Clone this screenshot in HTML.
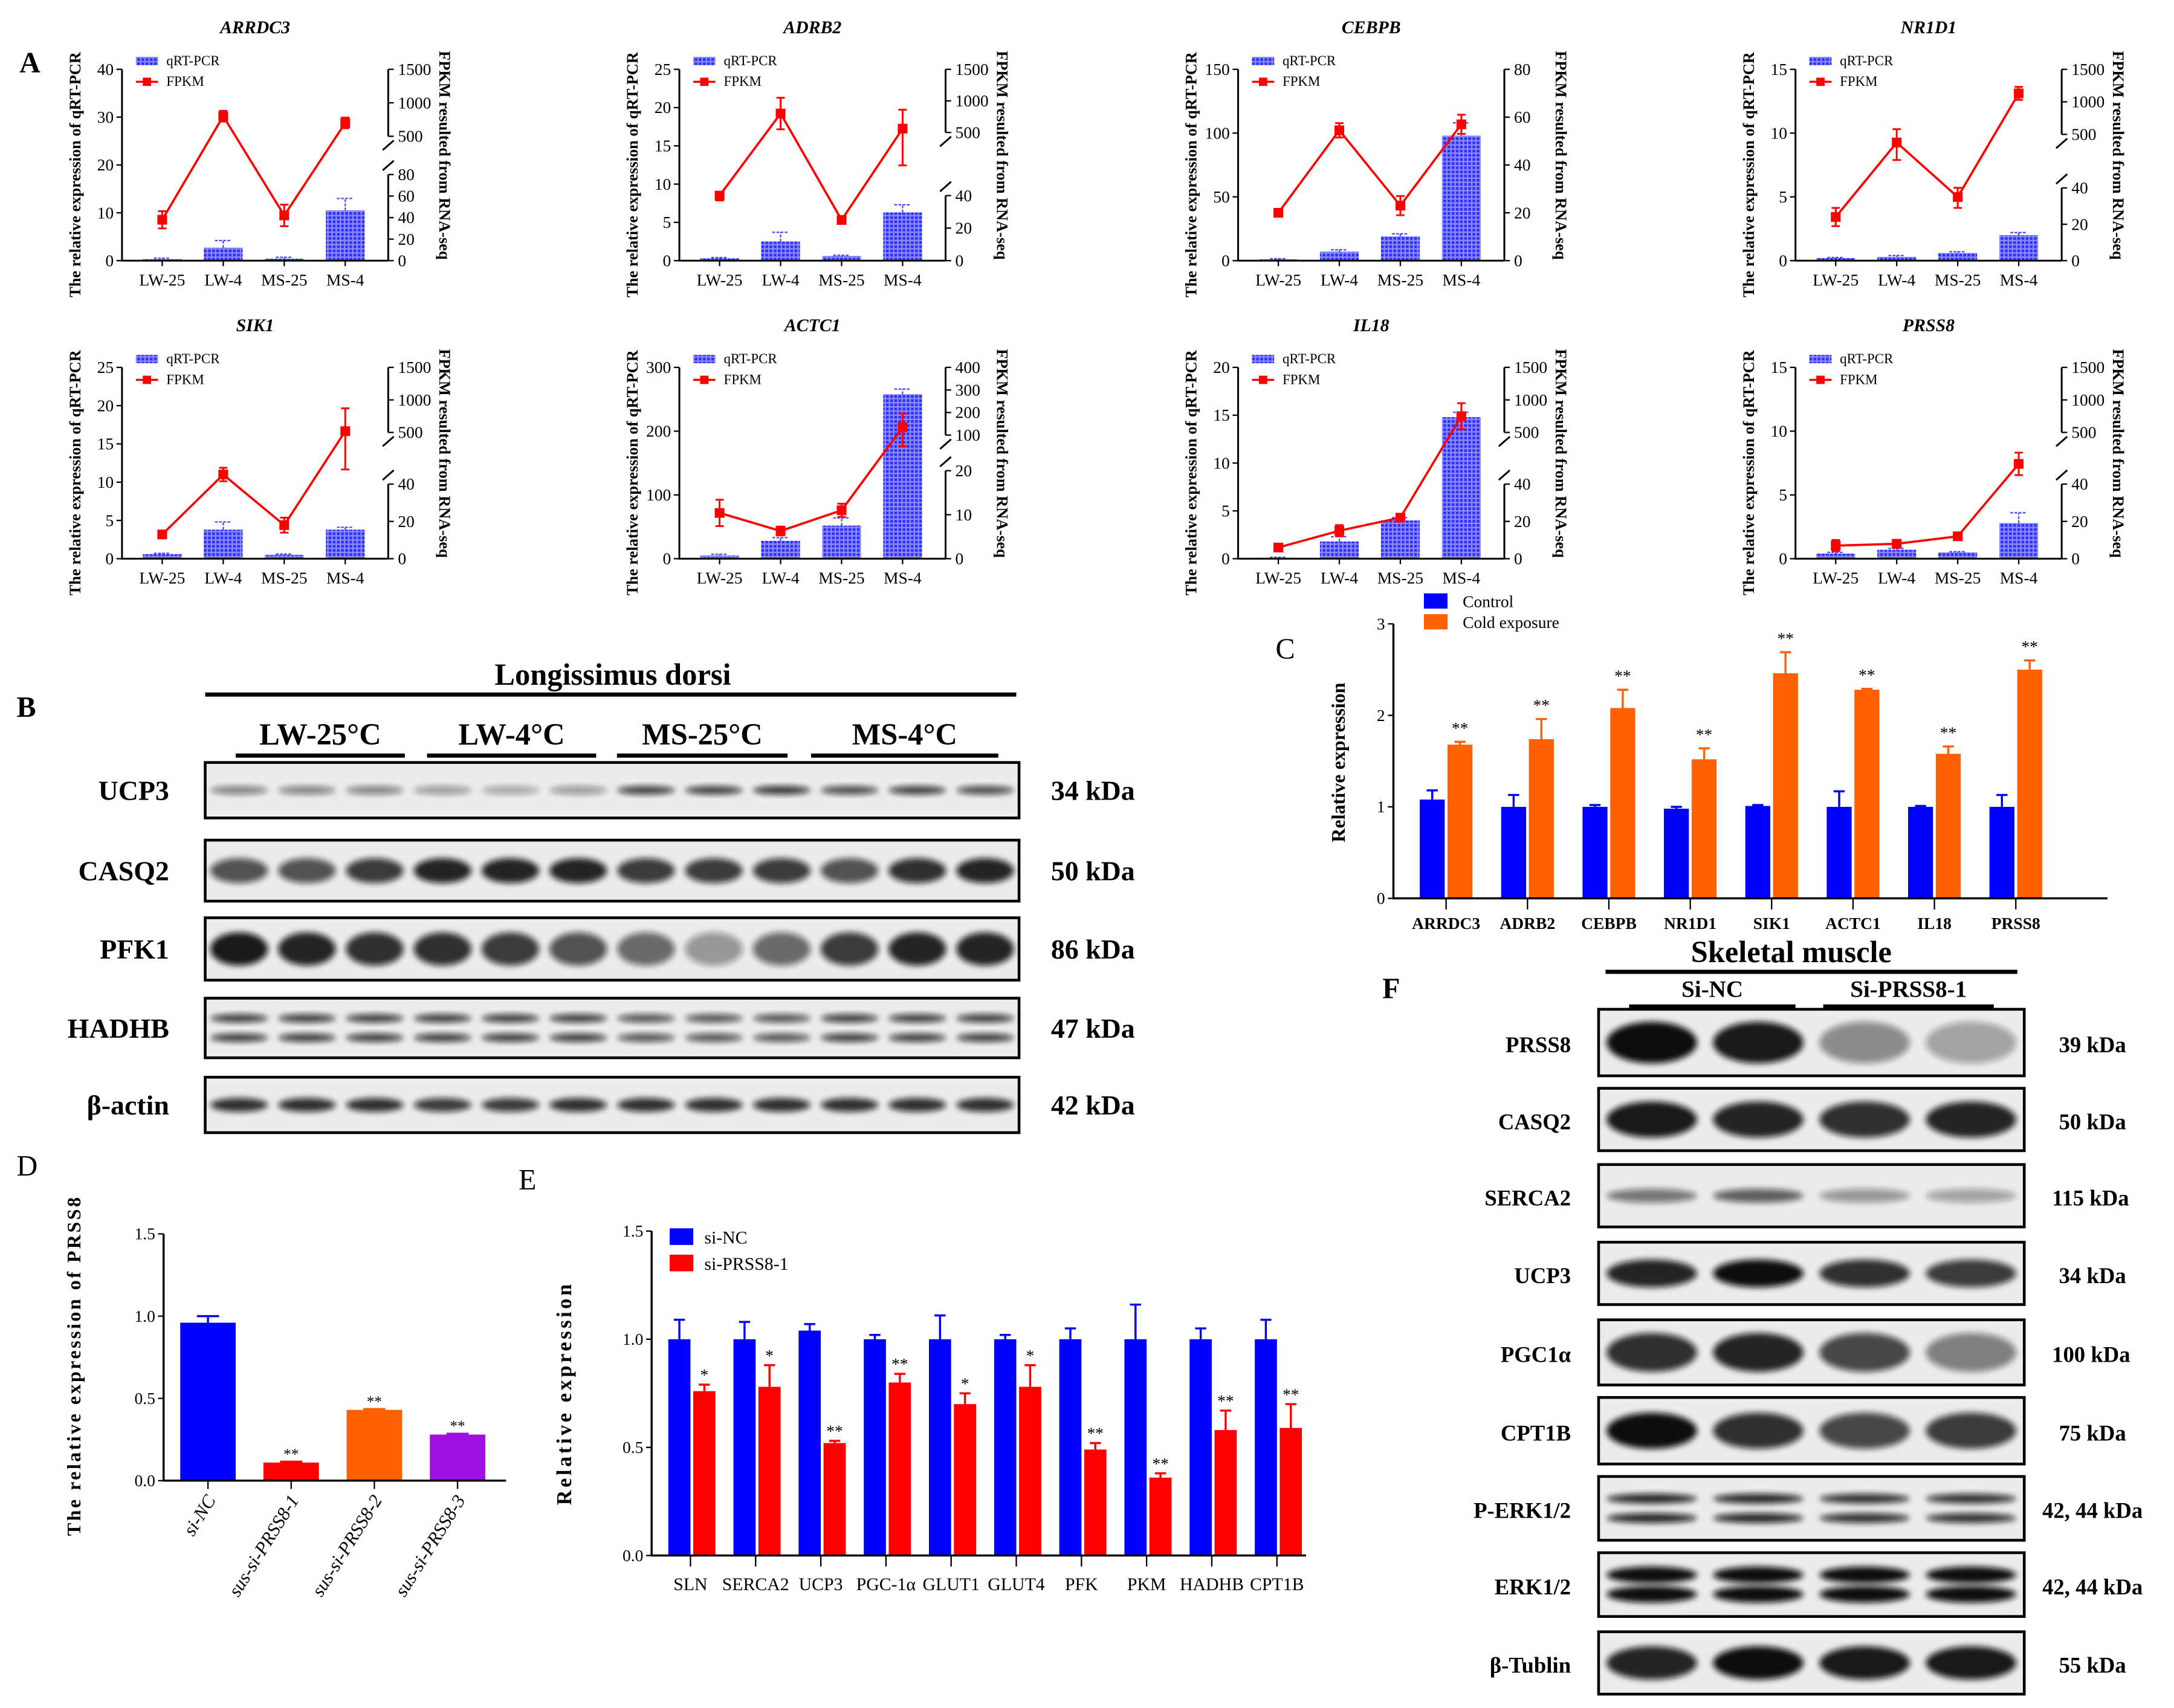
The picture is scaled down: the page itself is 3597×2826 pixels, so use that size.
<!DOCTYPE html>
<html><head><meta charset="utf-8">
<style>
html,body{margin:0;padding:0;background:#fff;}
svg{display:block;font-family:"Liberation Serif",serif;}
</style></head>
<body>
<svg id="fig" width="3597" height="2826" viewBox="0 0 1568 1232" preserveAspectRatio="none" xmlns="http://www.w3.org/2000/svg">
<defs>
<pattern id="grid" width="3" height="3" patternUnits="userSpaceOnUse">
<rect width="3" height="3" fill="#2f2fff"/>
<rect x="2" width="1" height="3" fill="#8c8cff"/>
<rect y="2" width="3" height="1" fill="#8c8cff"/>
</pattern>
<filter id="blur" x="-20%" y="-50%" width="140%" height="200%"><feGaussianBlur stdDeviation="2.2"/></filter>
</defs>
</svg>
<script>
// ---------- Panel A data ----------
const aGenes = ['ARRDC3','ADRB2','CEBPB','NR1D1','SIK1','ACTC1','IL18','PRSS8'];
const aCats = ['LW-25','LW-4','MS-25','MS-4'];
const aQpcr = [[0.3,2.7,0.4,10.5],[0.3,2.5,0.6,6.3],[1,7,19,98],[0.2,0.3,0.6,2.0],[0.6,3.8,0.5,3.8],[5,28,52,258],[0.1,1.8,4,14.8],[0.4,0.7,0.5,2.8]];
const aQpcrErr = [[0.2,1.5,0.3,2.5],[0.1,1.2,0.1,1.0],[0.5,1.5,2,10],[0.05,0.1,0.1,0.2],[0.1,1,0.1,0.3],[2,5,12,8],[0.05,0.5,0.3,0.5],[0.1,0.1,0.05,0.8]];
const aFpkm = [[38,800,42,700],[40,800,25,560],[20,54.5,23,57],[24,430,35,1130],[13,125,18,520],[10.4,6.3,11,135],[6,15,22,750],[7,8,12,220]];
const aFpkmErr = [[8,80,10,80],[3,250,2,300],[1,3,4,4],[5,150,6,100],[2,60,4,350],[3,1,1.5,60],[1,3,2,200],[3,1,1,100]];
const aLeftTicks = [[0,10,20,30,40],[0,5,10,15,20,25],[0,50,100,150],[0,5,10,15],[0,5,10,15,20,25],[0,100,200,300],[0,5,10,15,20],[0,5,10,15]];
const aRightLowTicks = [[0,20,40,60,80],[0,20,40],[0,20,40,60,80],[0,20,40],[0,20,40],[0,10,20],[0,20,40],[0,20,40]];
const aRightUpTicks = [[500,1000,1500],[500,1000,1500],[],[500,1000,1500],[500,1000,1500],[100,200,300,400],[500,1000,1500],[500,1000,1500]];
// ---------- Panel C data ----------
const cGenes = ['ARRDC3','ADRB2','CEBPB','NR1D1','SIK1','ACTC1','IL18','PRSS8'];
const cControl = [1.08,1.0,1.0,0.98,1.01,1.0,1.0,1.0];
const cControlErr = [0.1,0.13,0.02,0.02,0.01,0.17,0.01,0.13];
const cCold = [1.68,1.74,2.08,1.52,2.46,2.28,1.58,2.50];
const cColdErr = [0.03,0.22,0.2,0.12,0.23,0.01,0.08,0.1];
const cTicks = [0,1,2,3];
// ---------- Panel D data ----------
const dCats = ['si-NC','sus-si-PRSS8-1','sus-si-PRSS8-2','sus-si-PRSS8-3'];
const dValues = [0.96,0.11,0.43,0.28];
const dErr = [0.04,0.005,0.005,0.005];
const dSig = ['','**','**','**'];
const dTicks = [0,0.5,1.0,1.5];
// ---------- Panel E data ----------
const eCats = ['SLN','SERCA2','UCP3','PGC-1α','GLUT1','GLUT4','PFK','PKM','HADHB','CPT1B'];
const eNC = [1,1,1.04,1,1,1,1,1,1,1];
const eNCErr = [0.09,0.08,0.03,0.02,0.11,0.02,0.05,0.16,0.05,0.09];
const eSi = [0.76,0.78,0.52,0.8,0.7,0.78,0.49,0.36,0.58,0.59];
const eSiErr = [0.03,0.1,0.01,0.04,0.05,0.1,0.03,0.02,0.09,0.11];
const eSig = ['*','*','**','**','*','*','**','**','**','**'];
const eTicks = [0,0.5,1.0,1.5];

const NS='http://www.w3.org/2000/svg';
const svg=document.getElementById('fig');
function el(tag,attrs,parent){const e=document.createElementNS(NS,tag);for(const k in attrs)e.setAttribute(k,attrs[k]);(parent||svg).appendChild(e);return e;}
function txt(s,attrs,parent){const e=el('text',attrs,parent);e.textContent=s;return e;}
function fmt(v){return (Math.round(v*10)/10).toFixed(1);}

// ---------- Panel A ----------
const colX=[88,490,893,1295], rowB=[188,403], H=138, W=192;
const lblA=txt('A',{x:14,y:52,'font-size':21,'font-weight':'bold'});


aGenes.forEach((g,ci)=>{
  const ox=colX[ci%4], by=rowB[Math.floor(ci/4)], ty=by-H;
  const grp=el('g',{});
  
  
  const lt=aLeftTicks[ci], lmax=lt[lt.length-1];
  const yL=v=>by-v/lmax*H;
  const low=aRightLowTicks[ci], up=aRightUpTicks[ci];
  const lowMax=low[low.length-1];
  const lowFrac = up.length? [0.45,0.34,1,0.38,0.39,0.46,0.39,0.39][ci] : 1;
  const upFrac = [0.65,0.67,1,0.66,0.66,0.646,0.66,0.66][ci];
  const yR=v=>{let f;
    if(!up.length||v<=lowMax) f=v/lowMax*lowFrac;
    else if(v<=up[0]) f=lowFrac+(v-lowMax)/(up[0]-lowMax)*(upFrac-lowFrac);
    else f=upFrac+(v-up[0])/(up[up.length-1]-up[0])*(1-upFrac);
    return by-f*H;};
  const xC=i=>ox+29+44*i;
  const t=txt(g,{x:ox+96,y:ty-26,'font-size':13,'font-style':'italic','font-weight':'bold','text-anchor':'middle'},grp);
  
  
  aQpcr[ci].forEach((v,i)=>{
    const b=el('rect',{x:xC(i)-14,y:yL(v),width:28,height:by-yL(v),fill:'url(#grid)'},grp);
    
    
    const e=aQpcrErr[ci][i];
    const eb=el('path',{d:`M${xC(i)},${yL(v)} V${yL(v+e)} M${xC(i)-6},${yL(v+e)} H${xC(i)+6}`,stroke:'#4a4aff','stroke-width':1,'stroke-dasharray':'2,1',fill:'none'},grp);
    
    
  });
  const ax=el('path',{d:`M${ox},${ty} V${by} H${ox+W} M${ox+W},${by} V${by-lowFrac*H}`+(up.length?` M${ox+W},${by-upFrac*H} V${ty}`:''),stroke:'#000','stroke-width':1.3,fill:'none'},grp);
  
  
  if(up.length){
    const bm=el('path',{d:`M${ox+W-4},${by-lowFrac*H-3} L${ox+W+4},${by-lowFrac*H-10} M${ox+W-4},${by-upFrac*H+10} L${ox+W+4},${by-upFrac*H+3}`,stroke:'#000','stroke-width':1.3},grp);
    
    
  }
  lt.forEach(v=>{
    el('line',{x1:ox-4,x2:ox,y1:yL(v),y2:yL(v),stroke:'#000'},grp);
    const tl=txt(String(v),{x:ox-6,y:yL(v)+4,'font-size':12,'text-anchor':'end'},grp);
    
    
  });
  low.concat(up).forEach(v=>{
    el('line',{x1:ox+W,x2:ox+W+4,y1:yR(v),y2:yR(v),stroke:'#000'},grp);
    const tr=txt(String(v),{x:ox+W+7,y:yR(v)+4,'font-size':12},grp);
    
    
  });
  aCats.forEach((c,i)=>{
    el('line',{x1:xC(i),x2:xC(i),y1:by,y2:by+4,stroke:'#000'},grp);
    const xl=txt(c,{x:xC(i),y:by+18,'font-size':12,'text-anchor':'middle'},grp);
    
    
  });
  const pts=aFpkm[ci].map((v,i)=>xC(i)+','+yR(v)).join(' ');
  const pl=el('polyline',{points:pts,fill:'none',stroke:'#ff0000','stroke-width':1.6},grp);
  
  
  aFpkm[ci].forEach((v,i)=>{
    const e=aFpkmErr[ci][i];
    const ep=el('path',{d:`M${xC(i)},${yR(v-e)} V${yR(v+e)} M${xC(i)-3},${yR(v-e)} H${xC(i)+3} M${xC(i)-3},${yR(v+e)} H${xC(i)+3}`,stroke:'#ff0000','stroke-width':1.3,fill:'none'},grp);
    
    
    const p=el('rect',{x:xC(i)-3.5,y:yR(v)-3.5,width:7,height:7,fill:'#ff0000'},grp);
    
    
  });
  const lg=el('g',{},grp);
  
  
  el('rect',{x:ox+10,y:ty-9,width:16,height:6,fill:'url(#grid)'},lg);
  txt('qRT-PCR',{x:ox+32,y:ty-3,'font-size':10},lg);
  el('line',{x1:ox+10,x2:ox+26,y1:ty+9,y2:ty+9,stroke:'#f00','stroke-width':1.5},lg);
  el('rect',{x:ox+15,y:ty+6,width:6,height:6,fill:'#f00'},lg);
  txt('FPKM',{x:ox+32,y:ty+12,'font-size':10},lg);
  const yt=txt('The relative expression of qRT-PCR',{x:0,y:0,'font-size':11.5,'font-weight':'bold','text-anchor':'middle',transform:`translate(${ox-30},${by-62}) rotate(-90)`},grp);
  
  
  const rt=txt('FPKM resulted from RNA-seq',{x:0,y:0,'font-size':11.5,'font-weight':'bold','text-anchor':'middle',transform:`translate(${ox+W+37},${by-76}) rotate(90)`},grp);
  
  
});

// ---------- Blots ----------
function band(parent,cx,cy,w,h,op){
  const b=el('ellipse',{cx:cx,cy:cy,rx:w/2,ry:h/2,fill:'#111','fill-opacity':op,filter:'url(#blur)'},parent);
  
  
}
function blotRow(name,kda,x0,x1,y0,y1,lanes,op,h,dbl,labX,kX,labSize){
  const g=el('g',{});
  
  
  el('rect',{x:x0,y:y0,width:x1-x0,height:y1-y0,fill:'#ececec',stroke:'#000','stroke-width':2},g);
  const lw=(x1-x0)/lanes, cy=(y0+y1)/2;
  op.forEach((o,i)=>{
    const cx=x0+(i+0.5)*lw;
    if(dbl){band(g,cx,cy-dbl,lw*0.85,h,o);band(g,cx,cy+dbl,lw*0.85,h,o);}
    else band(g,cx,cy,lw*0.85,h,o);
  });
  const l=txt(name,{x:labX,y:cy+7,'font-size':labSize,'font-weight':'bold','text-anchor':'end'},g);
  
  
  const k=txt(kda,{x:kX,y:cy+7,'font-size':labSize,'font-weight':'bold'},g);
  
  
}
const lblB=txt('B',{x:12,y:517,'font-size':21,'font-weight':'bold'});


const bt=txt('Longissimus dorsi',{x:442,y:494,'font-size':22,'font-weight':'bold','text-anchor':'middle'});


el('line',{x1:148,x2:733,y1:501,y2:501,stroke:'#000','stroke-width':3});
[['LW-25°C',170,292],['LW-4°C',308,430],['MS-25°C',445,568],['MS-4°C',585,720]].forEach(([s,a,b])=>{
  const t=txt(s,{x:(a+b)/2,y:537,'font-size':22,'font-weight':'bold','text-anchor':'middle'});
  
  
  el('line',{x1:a,x2:b,y1:545,y2:545,stroke:'#000','stroke-width':3});
});
blotRow('UCP3','34 kDa',148,735,550,590,12,[0.5,0.5,0.5,0.4,0.35,0.4,0.8,0.8,0.85,0.75,0.8,0.75],6,0,122,758,20);
blotRow('CASQ2','50 kDa',148,735,606,650,12,[0.7,0.7,0.8,0.9,0.9,0.9,0.8,0.8,0.8,0.7,0.85,0.9],18,0,122,758,20);
blotRow('PFK1','86 kDa',148,735,662,707,12,[0.95,0.9,0.85,0.85,0.8,0.7,0.6,0.4,0.6,0.8,0.9,0.9],24,0,122,758,20);
blotRow('HADHB','47 kDa',148,735,720,763,12,[0.8,0.8,0.8,0.8,0.8,0.8,0.7,0.7,0.7,0.8,0.8,0.8],6,7,122,758,20);
blotRow('β-actin','42 kDa',148,735,777,817,12,[0.85,0.85,0.85,0.8,0.8,0.85,0.85,0.85,0.85,0.85,0.85,0.85],10,0,122,758,20);

// ---------- Panel C ----------
(function(){
  const x0=1005,x1=1520,y0=648,y1=450,max=3;
  const y=v=>y0-(v/max)*(y0-y1);
  const xc=i=>1043+i*58.7;
  const g=el('g',{});
  
  
  const l=txt('C',{x:920,y:475,'font-size':21});
  
  
  cControl.forEach((v,i)=>{
    const b=el('rect',{x:xc(i)-19,y:y(v),width:18,height:y0-y(v),fill:'#0000ff'},g);
    
    
    const e=el('path',{d:`M${xc(i)-10},${y(v)} V${y(v+cControlErr[i])} M${xc(i)-14},${y(v+cControlErr[i])} H${xc(i)-6}`,stroke:'#0000ff','stroke-width':1.5},g);
    
    
  });
  cCold.forEach((v,i)=>{
    const b=el('rect',{x:xc(i)+1,y:y(v),width:18,height:y0-y(v),fill:'#ff6000'},g);
    
    
    const e=el('path',{d:`M${xc(i)+10},${y(v)} V${y(v+cColdErr[i])} M${xc(i)+6},${y(v+cColdErr[i])} H${xc(i)+14}`,stroke:'#ff6000','stroke-width':1.5},g);
    
    
    const s=txt('**',{x:xc(i)+10,y:y(v+cColdErr[i])-6,'font-size':12,'text-anchor':'middle'},g);
    
    
  });
  el('path',{d:`M${x0},${y1} V${y0} H${x1}`,stroke:'#000','stroke-width':1.5,fill:'none'},g);
  cTicks.forEach(v=>{
    el('line',{x1:x0-4,x2:x0,y1:y(v),y2:y(v),stroke:'#000'},g);
    const t=txt(String(v),{x:x0-6,y:y(v)+4,'font-size':12,'text-anchor':'end'},g);
    
    
  });
  cGenes.forEach((c,i)=>{
    el('line',{x1:xc(i),x2:xc(i),y1:y0,y2:y0+8,stroke:'#000'},g);
    const t=txt(c,{x:xc(i),y:y0+22,'font-size':12,'font-weight':'bold','text-anchor':'middle'},g);
    
    
  });
  const yt=txt('Relative expression',{x:0,y:0,'font-size':14,'font-weight':'bold','text-anchor':'middle',transform:'translate(970,550) rotate(-90)'},g);
  
  
  const lg=el('g',{},g);
  
  
  el('rect',{x:1027,y:428,width:17,height:11,fill:'#0000ff'},lg);
  txt('Control',{x:1055,y:438,'font-size':12},lg);
  el('rect',{x:1027,y:443,width:17,height:11,fill:'#ff6000'},lg);
  txt('Cold exposure',{x:1055,y:453,'font-size':12},lg);
})();

// ---------- Panel D ----------
(function(){
  const x0=118,x1=365,y0=1068,y1=890,max=1.5;
  const y=v=>y0-(v/max)*(y0-y1);
  const xc=i=>150+i*60;
  const cols=['#0000ff','#ff0000','#ff6000','#a010e0'];
  const g=el('g',{});
  
  
  const l=txt('D',{x:12,y:848,'font-size':21});
  
  
  dValues.forEach((v,i)=>{
    const b=el('rect',{x:xc(i)-20,y:y(v),width:40,height:y0-y(v),fill:cols[i]},g);
    
    
    const e=el('path',{d:`M${xc(i)},${y(v)} V${y(v+dErr[i])} M${xc(i)-8},${y(v+dErr[i])} H${xc(i)+8}`,stroke:cols[i],'stroke-width':1.5},g);
    
    
    if(dSig[i]){
      const s=txt(dSig[i],{x:xc(i),y:y(v+dErr[i])-2,'font-size':11,'text-anchor':'middle'},g);
      
      
    }
    el('line',{x1:xc(i),x2:xc(i),y1:y0,y2:y0+6,stroke:'#000'},g);
    const t=txt(dCats[i],{x:0,y:0,'font-size':13.5,'font-style':'italic','text-anchor':'end',transform:`translate(${xc(i)+6},${y0+14}) rotate(-58)`},g);
    
    
  });
  el('path',{d:`M${x0},${y1} V${y0} H${x1}`,stroke:'#000','stroke-width':1.5,fill:'none'},g);
  dTicks.forEach(v=>{
    el('line',{x1:x0-4,x2:x0,y1:y(v),y2:y(v),stroke:'#000'},g);
    const t=txt(fmt(v),{x:x0-6,y:y(v)+4,'font-size':12,'text-anchor':'end'},g);
    
    
  });
  const yt=txt('The relative expression of PRSS8',{x:0,y:0,'font-size':14,'font-weight':'bold','letter-spacing':1.5,'text-anchor':'middle',transform:'translate(58,985) rotate(-90)'},g);
  
  
})();

// ---------- Panel E ----------
(function(){
  const x0=470,x1=942,y0=1122,y1=888,max=1.5;
  const y=v=>y0-(v/max)*(y0-y1);
  const xc=i=>498+i*47;
  const g=el('g',{});
  
  
  const l=txt('E',{x:374,y:858,'font-size':21});
  
  
  eNC.forEach((v,i)=>{
    const b=el('rect',{x:xc(i)-16,y:y(v),width:16,height:y0-y(v),fill:'#0000ff'},g);
    
    
    const e=el('path',{d:`M${xc(i)-8},${y(v)} V${y(v+eNCErr[i])} M${xc(i)-12},${y(v+eNCErr[i])} H${xc(i)-4}`,stroke:'#0000ff','stroke-width':1.5},g);
    
    
  });
  eSi.forEach((v,i)=>{
    const b=el('rect',{x:xc(i)+2,y:y(v),width:16,height:y0-y(v),fill:'#ff0000'},g);
    
    
    const e=el('path',{d:`M${xc(i)+10},${y(v)} V${y(v+eSiErr[i])} M${xc(i)+6},${y(v+eSiErr[i])} H${xc(i)+14}`,stroke:'#ff0000','stroke-width':1.5},g);
    
    
    const s=txt(eSig[i],{x:xc(i)+10,y:y(v+eSiErr[i])-3,'font-size':12,'text-anchor':'middle'},g);
    
    
  });
  el('path',{d:`M${x0},${y1} V${y0} H${x1}`,stroke:'#000','stroke-width':1.5,fill:'none'},g);
  eTicks.forEach(v=>{
    el('line',{x1:x0-4,x2:x0,y1:y(v),y2:y(v),stroke:'#000'},g);
    const t=txt(fmt(v),{x:x0-6,y:y(v)+4,'font-size':12,'text-anchor':'end'},g);
    
    
  });
  eCats.forEach((c,i)=>{
    el('line',{x1:xc(i),x2:xc(i),y1:y0,y2:y0+8,stroke:'#000'},g);
    const t=txt(c,{x:xc(i),y:y0+25,'font-size':13,'text-anchor':'middle'},g);
    
    
  });
  const yt=txt('Relative expression',{x:0,y:0,'font-size':15,'font-weight':'bold','letter-spacing':2,'text-anchor':'middle',transform:'translate(412,1005) rotate(-90)'},g);
  
  
  const lg=el('g',{},g);
  
  
  el('rect',{x:483,y:886,width:17,height:12,fill:'#0000ff'},lg);
  txt('si-NC',{x:508,y:897,'font-size':13},lg);
  el('rect',{x:483,y:905,width:17,height:12,fill:'#ff0000'},lg);
  txt('si-PRSS8-1',{x:508,y:916,'font-size':13},lg);
})();

// ---------- Panel F ----------
const lblF=txt('F',{x:997,y:720,'font-size':21,'font-weight':'bold'});


const ft=txt('Skeletal muscle',{x:1292,y:694,'font-size':22,'font-weight':'bold','text-anchor':'middle'});


el('line',{x1:1158,x2:1455,y1:701,y2:701,stroke:'#000','stroke-width':3});
[['Si-NC',1175,1295],['Si-PRSS8-1',1315,1438]].forEach(([s,a,b])=>{
  const t=txt(s,{x:(a+b)/2,y:719,'font-size':17,'font-weight':'bold','text-anchor':'middle'});
  
  
  el('line',{x1:a,x2:b,y1:726,y2:726,stroke:'#000','stroke-width':3});
});
blotRow('PRSS8','39 kDa',1153,1460,728,776,4,[1,0.95,0.45,0.35],30,0,1133,1485,16);
blotRow('CASQ2','50 kDa',1153,1460,785,830,4,[0.95,0.9,0.85,0.9],26,0,1133,1485,16);
blotRow('SERCA2','115 kDa',1153,1460,840,885,4,[0.55,0.65,0.4,0.35],10,0,1133,1480,16);
blotRow('UCP3','34 kDa',1153,1460,896,941,4,[0.9,1,0.85,0.8],20,0,1133,1485,16);
blotRow('PGC1α','100 kDa',1153,1460,952,999,4,[0.85,0.9,0.75,0.5],28,0,1133,1480,16);
blotRow('CPT1B','75 kDa',1153,1460,1008,1056,4,[1,0.85,0.75,0.8],26,0,1133,1485,16);
blotRow('P-ERK1/2','42, 44 kDa',1153,1460,1065,1111,4,[0.9,0.9,0.85,0.85],7,7,1133,1473,16);
blotRow('ERK1/2','42, 44 kDa',1153,1460,1120,1166,4,[1,1,1,1],12,7,1133,1473,16);
blotRow('β-Tublin','55 kDa',1153,1460,1177,1222,4,[0.9,1,0.95,0.95],24,0,1133,1485,16);
</script>
</body></html>
